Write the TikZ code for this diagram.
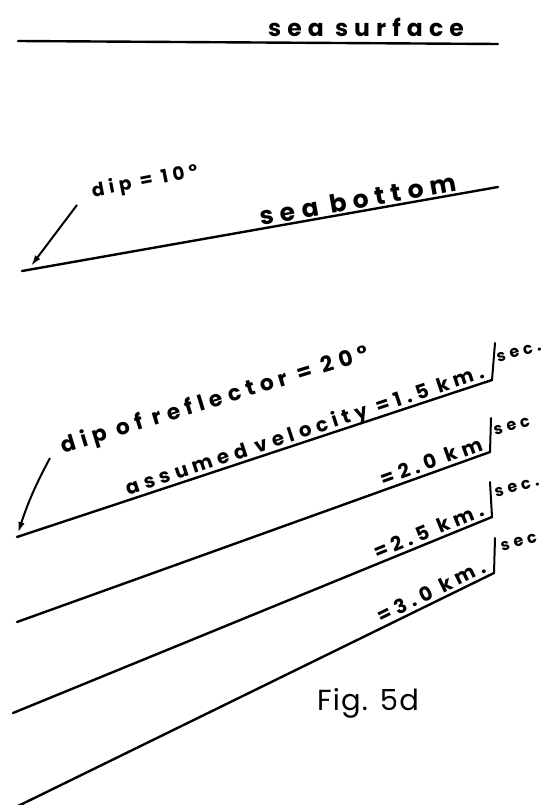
\documentclass[tikz,border=0pt]{standalone}
\usepackage{fontspec}
\newfontfamily\hand[LetterSpace=26]{Poppins}
\newfontfamily\figfont[LetterSpace=4]{Poppins}
\usetikzlibrary{arrows.meta}
\begin{document}
\begin{tikzpicture}[x=1pt,y=-1pt,
  stroke/.style={line width=2.4pt, line cap=round},
  bar/.style={line width=2pt, line cap=round},
  lbl/.style={font=\hand\bfseries\fontsize{#1}{#1}\selectfont, inner sep=0pt, outer sep=0pt},
  lbl/.default=19,
  sml/.style={font=\hand\bfseries\fontsize{16}{18}\selectfont, inner sep=0pt, outer sep=0pt},
  figlbl/.style={font=\figfont\fontsize{29}{32}\selectfont, inner sep=0pt},
  ptr/.style={line width=2pt, -{Latex[length=11pt,width=6.5pt]}}]
\useasboundingbox (0,0) rectangle (555,805);

% sea surface
\coordinate (s1) at (18,41);
\coordinate (s2) at (498,44);
\draw[stroke] (s1) -- (s2);
\node[lbl=23.5, anchor=base] (surf) at (366,37) {sea surface};

% sea bottom
\coordinate (b1) at (22,271);
\coordinate (b2) at (498,187);
\draw[stroke] (b1) -- (b2)
  node[lbl=25, pos=0.71, sloped, anchor=base] (bot) {\raisebox{3pt}{sea bottom}};
\node[lbl=18.5, rotate=11] (dip1) at (145,182) {dip = 10°};
\coordinate (a1s) at (77,205);
\coordinate (a1e) at (31,266);
\draw[ptr] (a1s) -- (a1e);

% reflectors
\coordinate (r1a) at (17,537);  \coordinate (r1b) at (492,380);
\coordinate (r2a) at (17,622);  \coordinate (r2b) at (490,452);
\coordinate (r3a) at (13,713);  \coordinate (r3b) at (492,517);
\coordinate (r4a) at (14,808);  \coordinate (r4b) at (494,573);

\draw[stroke] (r1a) -- (r1b)
  node[lbl=19.8, pos=0.99, sloped, anchor=base east] (v1) {\raisebox{4pt}{assumed velocity =1.5 km.}};
\draw[stroke] (r2a) -- (r2b)
  node[lbl=19.8, pos=0.99, sloped, anchor=base east] (v2) {\raisebox{4pt}{=2.0 km}};
\draw[stroke] (r3a) -- (r3b)
  node[lbl=19.8, pos=0.99, sloped, anchor=base east] (v3) {\raisebox{4pt}{=2.5 km.}};
\draw[stroke] (r4a) -- (r4b)
  node[lbl=19.8, pos=0.99, sloped, anchor=base east] (v4) {\raisebox{4pt}{=3.0 km.}};

% fraction bars and "sec"
\coordinate (t1) at (495,343);
\coordinate (t2) at (491,418);
\coordinate (t3) at (490,482);
\coordinate (t4) at (495,538);
\draw[bar] (r1b) -- (t1);
\draw[bar] (r2b) -- (t2);
\draw[bar] (r3b) -- (t3);
\draw[bar] (r4b) -- (t4);
\node[sml, rotate=15, anchor=west] (sec1) at (497,358) {sec.};
\node[sml, rotate=15, anchor=west] (sec2) at (494,431) {sec};
\node[sml, rotate=15, anchor=west] (sec3) at (495,493) {sec.};
\node[sml, rotate=15, anchor=west] (sec4) at (501,547) {sec};

% dip of reflector
\node[lbl=21.8, rotate=17] (dip2) at (215,401) {dip of reflector = 20°};
\coordinate (a2s) at (50,458);
\coordinate (a2e) at (18,533);
\draw[ptr] (a2s) to[bend right=5] (a2e);

% caption
\node[figlbl] (fig) at (368,703) {Fig. 5d};
\end{tikzpicture}
\end{document}
